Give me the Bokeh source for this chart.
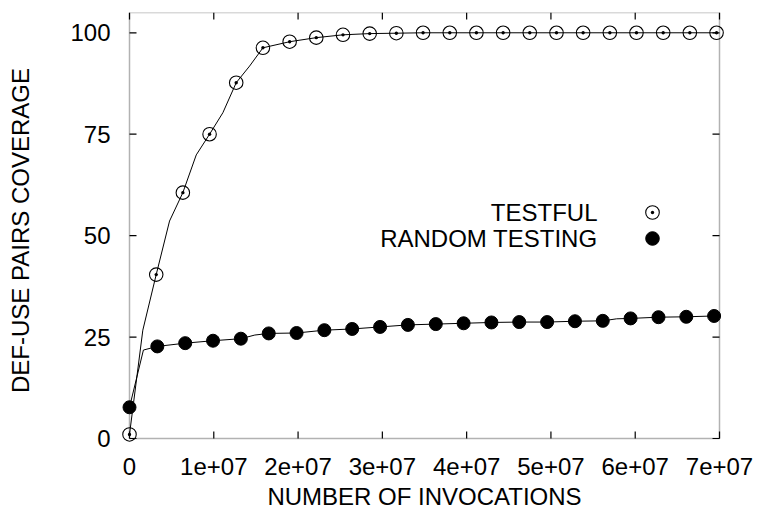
from bokeh.plotting import figure
from bokeh.models import FixedTicker, Legend, LegendItem, Label, Range1d, BoxAnnotation
from bokeh.core.properties import value
from bokeh.embed import file_html
from bokeh.resources import INLINE

# ---- data ----
series_names = ["TESTFUL", "RANDOM TESTING"]
x_label = "NUMBER OF INVOCATIONS"
y_label = "DEF-USE PAIRS COVERAGE"

testful_x = [0, 3.17e6, 6.33e6, 9.50e6, 1.266e7, 1.583e7, 1.900e7, 2.216e7, 2.533e7,
             2.850e7, 3.166e7, 3.483e7, 3.800e7, 4.116e7, 4.433e7, 4.749e7, 5.066e7,
             5.382e7, 5.699e7, 6.015e7, 6.332e7, 6.648e7, 6.965e7]
testful_y = [1.0, 40.4, 60.6, 75.0, 87.7, 96.3, 97.8, 98.8, 99.5,
             99.8, 99.9, 100, 100, 100, 100, 100, 100,
             100, 100, 100, 100, 100, 100]

testful_line_x = [0, 1.58e6, 3.17e6, 4.75e6, 6.33e6, 7.92e6, 9.50e6, 1.108e7, 1.266e7,
                  1.425e7, 1.583e7, 1.900e7, 2.216e7, 2.533e7, 2.850e7, 3.166e7, 3.483e7,
                  3.800e7, 4.116e7, 4.433e7, 4.749e7, 5.066e7, 5.382e7, 5.699e7, 6.015e7,
                  6.332e7, 6.648e7, 6.965e7]
testful_line_y = [1.0, 26.7, 40.4, 53.6, 60.6, 69.9, 75.0, 80.3, 87.7,
                  91.8, 96.3, 97.8, 98.8, 99.5, 99.8, 99.9, 100,
                  100, 100, 100, 100, 100, 100, 100, 100,
                  100, 100, 100]

random_x = [0, 3.30e6, 6.61e6, 9.91e6, 1.321e7, 1.652e7, 1.982e7, 2.312e7, 2.642e7,
            2.973e7, 3.303e7, 3.634e7, 3.964e7, 4.294e7, 4.624e7, 4.955e7, 5.285e7,
            5.615e7, 5.945e7, 6.276e7, 6.606e7, 6.936e7]
random_y = [7.7, 22.7, 23.5, 24.1, 24.6, 25.9, 26.0, 26.7, 27.0,
            27.5, 28.0, 28.2, 28.4, 28.6, 28.7, 28.7, 28.9,
            29.0, 29.6, 29.9, 30.0, 30.2]

random_line_x = [0, 1.65e6, 3.30e6, 6.61e6, 9.91e6, 1.321e7, 1.487e7, 1.652e7, 1.982e7,
                 2.312e7, 2.642e7, 2.973e7, 3.303e7, 3.634e7, 3.964e7, 4.294e7, 4.624e7,
                 4.955e7, 5.285e7, 5.615e7, 5.780e7, 5.945e7, 6.276e7, 6.606e7, 6.936e7]
random_line_y = [7.7, 21.8, 22.7, 23.5, 24.1, 24.6, 25.5, 25.9, 26.0,
                 26.7, 27.0, 27.5, 28.0, 28.2, 28.4, 28.6, 28.7,
                 28.7, 28.9, 29.0, 29.5, 29.6, 29.9, 30.0, 30.2]

x_ticks = [0, 10000000, 20000000, 30000000, 40000000, 50000000, 60000000, 70000000]
x_tick_labels = ["0", "1e+07", "2e+07", "3e+07", "4e+07", "5e+07", "6e+07", "7e+07"]
y_ticks = [0, 25, 50, 75, 100]

X_MIN, X_MAX = 0, 7e7
Y_MIN, Y_MAX = 0, 105

FONT = "Liberation Sans"
FS = "24px"

# geometry: plotting box 590 x 426 px, with a 10 px pad so edge markers are not clipped
BOX_W, BOX_H, PAD, TICK = 590, 426, 10, 7
xpx = (X_MAX - X_MIN) / BOX_W
ypx = (Y_MAX - Y_MIN) / BOX_H

p = figure(frame_width=BOX_W + 2 * PAD, frame_height=BOX_H + PAD,
           output_backend="svg", toolbar_location=None,
           x_range=Range1d(X_MIN - PAD * xpx, X_MAX + PAD * xpx),
           y_range=Range1d(Y_MIN - PAD * ypx, Y_MAX),
           min_border_left=119, min_border_right=33, min_border_top=12, min_border_bottom=70)
p.background_fill_color = "white"
p.border_fill_color = "white"
p.grid.visible = False
p.outline_line_color = None

for ax in (p.xaxis[0], p.yaxis[0]):
    ax.axis_line_color = None
    ax.major_tick_in = 0
    ax.major_tick_out = 0
    ax.minor_tick_in = 0
    ax.minor_tick_out = 0
    ax.major_label_text_font = FONT
    ax.major_label_text_font_size = FS
    ax.major_label_text_color = "black"
    ax.axis_label_text_font = FONT
    ax.axis_label_text_font_size = FS
    ax.axis_label_text_font_style = "normal"
    ax.axis_label_text_color = "black"

p.xaxis[0].ticker = FixedTicker(ticks=x_ticks)
p.xaxis[0].major_label_overrides = dict(zip(x_ticks, x_tick_labels))
p.xaxis[0].major_label_standoff = 9
p.xaxis[0].axis_label = x_label
p.xaxis[0].axis_label_standoff = 5

p.yaxis[0].ticker = FixedTicker(ticks=y_ticks)
p.yaxis[0].major_label_standoff = 9
p.yaxis[0].axis_label = y_label
p.yaxis[0].axis_label_standoff = 33

# border box of the plotting area
p.add_layout(BoxAnnotation(left=X_MIN, right=X_MAX, bottom=Y_MIN, top=Y_MAX,
                           fill_alpha=0, line_color="black", line_width=1.5, level="underlay"))

# inward ticks on all four sides, derived from the tick lists
tl_y = TICK * ypx
tl_x = TICK * xpx
n_x = len(x_ticks)
n_y = len(y_ticks)
p.segment(x0=x_ticks, y0=[Y_MIN] * n_x, x1=x_ticks, y1=[Y_MIN + tl_y] * n_x,
          line_color="black", line_width=1.2)
p.segment(x0=x_ticks, y0=[Y_MAX] * n_x, x1=x_ticks, y1=[Y_MAX - tl_y] * n_x,
          line_color="black", line_width=1.2)
p.segment(x0=[X_MIN] * n_y, y0=y_ticks, x1=[X_MIN + tl_x] * n_y, y1=y_ticks,
          line_color="black", line_width=1.2)
p.segment(x0=[X_MAX] * n_y, y0=y_ticks, x1=[X_MAX - tl_x] * n_y, y1=y_ticks,
          line_color="black", line_width=1.2)

p.line(testful_line_x, testful_line_y, line_color="black", line_width=1)
r_t = p.scatter(testful_x, testful_y, marker="circle_dot", size=13.5, fill_color=None,
                line_color="black", line_width=1.1)
p.line(random_line_x, random_line_y, line_color="black", line_width=1)
r_r = p.scatter(random_x, random_y, marker="circle", size=13, fill_color="black",
                line_color="black", line_width=1)

def key(renderer, loc):
    return Legend(items=[LegendItem(label=value(""), renderers=[renderer])], location=loc,
                  glyph_width=34, glyph_height=34, padding=0, margin=0, spacing=0,
                  label_standoff=0, label_width=0, label_height=0,
                  border_line_color=None, background_fill_alpha=0)

p.add_layout(key(r_t, (516, 219)))
p.add_layout(key(r_r, (516, 193)))

p.add_layout(Label(x=478, y=236, x_units="screen", y_units="screen", text=series_names[0],
                   text_align="right", text_baseline="middle", text_font=FONT,
                   text_font_size=FS, text_color="black"))
p.add_layout(Label(x=478, y=210, x_units="screen", y_units="screen", text=series_names[1],
                   text_align="right", text_baseline="middle", text_font=FONT,
                   text_font_size=FS, text_color="black"))

open("out.html", "w").write(file_html(p, INLINE))
